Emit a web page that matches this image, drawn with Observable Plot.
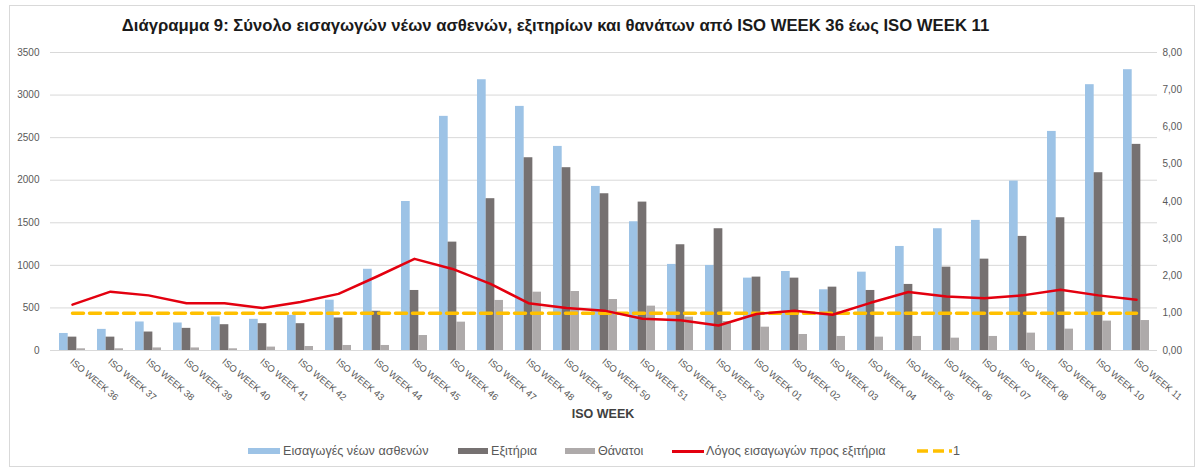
<!DOCTYPE html>
<html>
<head>
<meta charset="utf-8">
<script src="https://cdn.jsdelivr.net/npm/d3@7"></script>
<script src="https://cdn.jsdelivr.net/npm/@observablehq/plot@0.6"></script>
<style>
  html, body { margin: 0; padding: 0; background: #fff; }
  #wrap { position: relative; width: 1203px; height: 473px; overflow: hidden; font-family: "Liberation Sans", Arial, sans-serif; }
  #frame { position: absolute; left: 9px; top: 5px; width: 1186px; height: 462px; border: 1px solid #d9d9d9; box-sizing: border-box; }
  .layer { position: absolute; left: 0; top: 0; }
  #title { position: absolute; left: 0; width: 1111px; top: 16px; text-align: center; font-weight: bold; font-size: 16.7px; color: #1a1a1a; white-space: nowrap; }
  #xtitle { position: absolute; left: 0; width: 1206px; top: 407px; text-align: center; font-weight: bold; font-size: 12.5px; color: #404040; }
  .leg { position: absolute; top: 443px; font-size: 12.6px; color: #595959; white-space: nowrap; line-height: 16px; }
  .sw { position: absolute; }
</style>
</head>
<body>
<div id="wrap">
  <div id="frame"></div>
  <div id="title">Διάγραμμα 9: Σύνολο εισαγωγών νέων ασθενών, εξιτηρίων και θανάτων από ISO WEEK 36 έως ISO WEEK 11</div>
  <div id="plotA" class="layer"></div>
  <div id="plotB" class="layer"></div>
  <div id="xtitle">ISO WEEK</div>
  <div id="legend"></div>
</div>
<script>
// ---- Data ----
const weeks = [
  "ISO WEEK 36","ISO WEEK 37","ISO WEEK 38","ISO WEEK 39","ISO WEEK 40","ISO WEEK 41",
  "ISO WEEK 42","ISO WEEK 43","ISO WEEK 44","ISO WEEK 45","ISO WEEK 46","ISO WEEK 47",
  "ISO WEEK 48","ISO WEEK 49","ISO WEEK 50","ISO WEEK 51","ISO WEEK 52","ISO WEEK 53",
  "ISO WEEK 01","ISO WEEK 02","ISO WEEK 03","ISO WEEK 04","ISO WEEK 05","ISO WEEK 06",
  "ISO WEEK 07","ISO WEEK 08","ISO WEEK 09","ISO WEEK 10","ISO WEEK 11"
];
const admissions = [200,248,335,323,394,366,413,591,954,1750,2750,3180,2867,2397,1927,1512,1011,999,850,928,713,920,1222,1430,1528,1990,2573,3122,3298];
const discharges = [157,157,217,260,303,315,315,382,461,705,1273,1783,2264,2147,1841,1743,1242,1430,862,850,744,705,776,979,1073,1340,1559,2088,2421];
const deaths     = [20,20,30,30,20,40,47,59,59,176,333,588,685,693,599,521,392,340,274,188,165,157,165,145,165,204,251,345,352];
const ratio      = [1.23,1.58,1.48,1.27,1.27,1.14,1.30,1.52,1.98,2.46,2.19,1.79,1.27,1.14,1.07,0.85,0.81,0.67,0.98,1.07,0.96,1.28,1.57,1.45,1.40,1.48,1.63,1.48,1.36];
const threshold = 1;
const leftTicks = [0,500,1000,1500,2000,2500,3000,3500];
const rightTicks = [0,1,2,3,4,5,6,7,8];

const seriesNames = ["Εισαγωγές νέων ασθενών","Εξιτήρια","Θάνατοι","Λόγος εισαγωγών προς εξιτήρια","1"];
const colors = {adm: "#9dc3e6", dis: "#767171", dea: "#aeaaaa", ratio: "#e3000f", one: "#ffc000"};

const table = weeks.map((w, i) => ({week: w, adm: admissions[i], dis: discharges[i], dea: deaths[i], ratio: ratio[i]}));

// ---- Layout ----
const W = 1203, H = 473;
const M = {top: 52, bottom: 123, left: 50, right: 46};
const padIn = 0.32, padOut = 0.16;
const step = (W - M.left - M.right) / weeks.length;
const third = step * (1 - padIn) / 3;
const common = {
  width: W, height: H,
  marginTop: M.top, marginBottom: M.bottom, marginLeft: M.left, marginRight: M.right,
  style: {background: "transparent", fontFamily: "'Liberation Sans', Arial, sans-serif", fontSize: "10px", color: "#595959"}
};
const xOpt = {domain: weeks, paddingInner: padIn, paddingOuter: padOut, label: null, axis: null};

const plotA = Plot.plot({
  ...common,
  x: xOpt,
  y: {domain: [0, 3500], label: null, axis: null},
  marks: [
    Plot.gridY(leftTicks, {stroke: "#d9d9d9", strokeOpacity: 1}),
    Plot.barY(table, {x: "week", y: "adm", fill: colors.adm, insetLeft: 0, insetRight: 2 * third}),
    Plot.barY(table, {x: "week", y: "dis", fill: colors.dis, insetLeft: third, insetRight: third}),
    Plot.barY(table, {x: "week", y: "dea", fill: colors.dea, insetLeft: 2 * third, insetRight: 0}),
    Plot.axisY({ticks: leftTicks, tickSize: 0, tickPadding: 11, label: null, fill: "#595959", tickFormat: d => String(d)}),
    Plot.axisX({tickSize: 0, tickPadding: 10, tickRotate: 40, label: null, fill: "#595959", dx: -1, fontSize: 9.4})
  ]
});
document.getElementById("plotA").append(plotA);

const plotB = Plot.plot({
  ...common,
  x: xOpt,
  y: {domain: [0, 8], label: null, axis: null},
  marks: [
    Plot.lineY(weeks, {x: d => d, y: threshold, stroke: colors.one, strokeWidth: 3.5, strokeDasharray: "11,6"}),
    Plot.lineY(table, {x: "week", y: "ratio", stroke: colors.ratio, strokeWidth: 2.5, curve: "linear"}),
    Plot.axisY({anchor: "right", ticks: rightTicks, tickSize: 0, tickPadding: 5, label: null, fill: "#595959",
      tickFormat: d => d3.format(".2f")(d).replace(".", ",")})
  ]
});
document.getElementById("plotB").append(plotB);

// ---- Legend ----
const legend = document.getElementById("legend");
const items = [
  {name: seriesNames[0], type: "rect", color: colors.adm, sx: 248, sw: 32, tx: 283},
  {name: seriesNames[1], type: "rect", color: colors.dis, sx: 458, sw: 30, tx: 491},
  {name: seriesNames[2], type: "rect", color: colors.dea, sx: 565, sw: 30, tx: 598},
  {name: seriesNames[3], type: "line", color: colors.ratio, sx: 672, sw: 32, tx: 706},
  {name: seriesNames[4], type: "dash", color: colors.one, sx: 917, sw: 35, tx: 953}
];
for (const it of items) {
  const sw = document.createElement("div");
  sw.className = "sw";
  if (it.type === "rect") {
    Object.assign(sw.style, {left: it.sx + "px", top: "448px", width: it.sw + "px", height: "6px", background: it.color});
  } else if (it.type === "line") {
    Object.assign(sw.style, {left: it.sx + "px", top: "450px", width: it.sw + "px", height: "2.5px", background: it.color});
  } else {
    sw.innerHTML = `<svg width="${it.sw}" height="6"><line x1="0" y1="3" x2="${it.sw}" y2="3" stroke="${it.color}" stroke-width="3.5" stroke-dasharray="11,5"/></svg>`;
    Object.assign(sw.style, {left: it.sx + "px", top: "448px", lineHeight: "0"});
  }
  legend.append(sw);
  const t = document.createElement("div");
  t.className = "leg";
  t.style.left = it.tx + "px";
  t.textContent = it.name;
  legend.append(t);
}
</script>
</body>
</html>
